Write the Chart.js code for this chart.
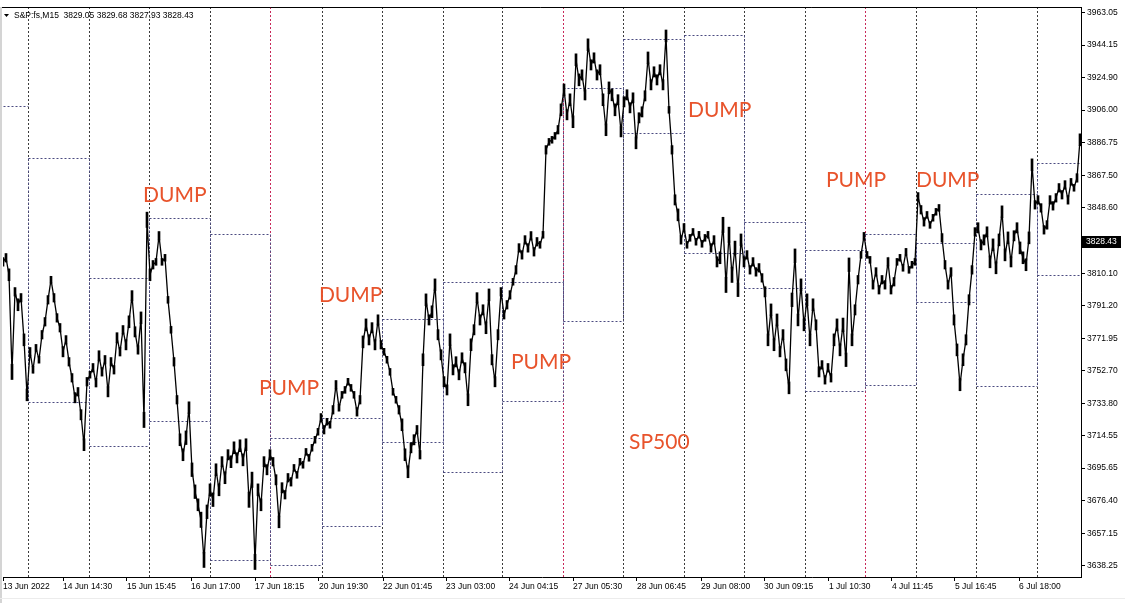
<!DOCTYPE html>
<html>
<head>
<meta charset="utf-8">
<script src="https://cdn.jsdelivr.net/npm/chart.js@4.4.0/dist/chart.umd.min.js"></script>
<style>
  body { margin: 0; background: #fff; }
  canvas { display: block; }
</style>
</head>
<body>
<canvas id="chart" width="1125" height="603"></canvas>
<script>
// S&P:fs M15 close prices, one sample per slot
const prices = [
  3816.8, 3819.2, 3809.2, 3752.2, 3799.2, 3791.6, 3795.7, 3771.0, 3738.7, 3764.0,
  3753.4, 3766.3, 3759.3, 3774.0, 3781.6, 3794.5, 3806.3, 3795.7, 3783.9, 3778.1,
  3764.0, 3771.0, 3758.1, 3748.7, 3737.0, 3740.5, 3727.0, 3709.4, 3746.4, 3750.5,
  3754.6, 3745.8, 3761.6, 3752.2, 3759.3, 3740.5, 3758.1, 3753.4, 3772.2, 3764.0,
  3776.9, 3768.1, 3781.6, 3796.9, 3775.7, 3765.1, 3783.9, 3724.0, 3841.5, 3809.2,
  3815.1, 3816.8, 3832.1, 3816.8, 3819.2, 3794.5, 3776.9, 3758.1, 3735.8, 3712.3,
  3703.5, 3713.5, 3731.1, 3694.7, 3681.8, 3674.1, 3665.3, 3641.8, 3670.0, 3682.9,
  3677.1, 3694.7, 3682.9, 3699.4, 3690.0, 3703.5, 3699.4, 3707.6, 3701.7, 3708.8,
  3700.5, 3709.4, 3677.1, 3688.8, 3640.6, 3682.9, 3674.1, 3699.4, 3694.7, 3703.5,
  3699.4, 3688.8, 3664.1, 3684.1, 3680.0, 3690.0, 3687.6, 3695.8, 3691.7, 3699.4,
  3697.6, 3705.2, 3701.7, 3707.6, 3712.3, 3717.0, 3725.2, 3718.2, 3722.9, 3721.1,
  3729.9, 3744.6, 3731.1, 3738.7, 3741.6, 3746.4, 3742.8, 3738.7, 3728.7, 3735.8,
  3769.8, 3779.8, 3771.0, 3778.1, 3768.1, 3782.7, 3768.1, 3764.0, 3759.3, 3752.2,
  3740.5, 3735.8, 3729.9, 3721.1, 3703.5, 3693.5, 3707.6, 3712.3, 3718.2, 3703.5,
  3759.3, 3794.5, 3782.7, 3787.5, 3803.3, 3774.0, 3762.2, 3746.4, 3741.6, 3771.0,
  3753.4, 3758.1, 3750.5, 3760.4, 3754.6, 3735.8, 3768.1, 3776.9, 3795.7, 3782.7,
  3788.6, 3778.1, 3797.4, 3759.3, 3746.4, 3774.0, 3799.2, 3785.7, 3791.6, 3797.4,
  3805.1, 3812.1, 3825.0, 3820.9, 3829.7, 3825.0, 3832.1, 3822.7, 3828.6, 3826.8,
  3832.7, 3882.6, 3887.3, 3888.5, 3890.8, 3894.4, 3906.1, 3917.8, 3903.2, 3912.0,
  3899.1, 3935.5, 3923.7, 3926.6, 3914.9, 3944.3, 3932.5, 3936.6, 3926.6, 3929.6,
  3912.0, 3894.4, 3919.0, 3914.9, 3906.1, 3912.0, 3893.2, 3910.8, 3914.9, 3907.3,
  3913.1, 3886.7, 3901.4, 3904.9, 3914.3, 3936.6, 3920.8, 3928.4, 3923.7, 3929.6,
  3920.8, 3949.5, 3906.1, 3882.6, 3853.2, 3844.4, 3829.7, 3836.8, 3826.8, 3830.9,
  3834.4, 3828.6, 3832.7, 3827.4, 3830.9, 3832.7, 3825.0, 3829.7, 3816.8, 3819.2,
  3838.5, 3803.3, 3832.7, 3809.2, 3825.0, 3800.4, 3829.7, 3816.8, 3820.9, 3812.1,
  3816.8, 3810.9, 3813.3, 3807.4, 3799.2, 3771.0, 3788.6, 3768.1, 3782.7, 3764.0,
  3774.0, 3756.3, 3742.8, 3794.5, 3820.4, 3782.7, 3803.3, 3779.8, 3794.5, 3771.0,
  3791.6, 3779.8, 3752.2, 3756.3, 3747.5, 3754.6, 3748.7, 3771.0, 3779.8, 3765.1,
  3779.8, 3759.3, 3815.1, 3771.0, 3788.6, 3806.3, 3820.9, 3832.1, 3820.9, 3818.0,
  3803.3, 3810.9, 3800.4, 3806.3, 3803.3, 3816.8, 3800.4, 3805.1, 3816.8, 3819.2,
  3813.3, 3822.7, 3812.1, 3815.1, 3816.8, 3855.0, 3847.4, 3840.3, 3844.4, 3838.5,
  3842.7, 3846.2, 3848.5, 3830.9, 3815.1, 3803.3, 3810.9, 3782.7, 3765.1, 3744.6,
  3759.3, 3771.0, 3794.5, 3812.1, 3834.4, 3836.8, 3826.8, 3829.7, 3834.4, 3816.8,
  3826.8, 3813.3, 3829.7, 3846.2, 3820.9, 3830.9, 3816.8, 3832.1, 3836.8, 3825.0,
  3819.2, 3815.1, 3830.9, 3873.8, 3850.3, 3853.2, 3848.5, 3835.6, 3838.5, 3853.2,
  3849.7, 3854.4, 3860.3, 3856.2, 3862.0, 3853.2, 3863.8, 3860.3, 3866.1, 3888.5
];

// half of the high-low spread of the bars in each slot (points)
const barSpan = [
  2.5, 2.5, 3.5, 4.5, 2.5, 3.5, 2.5, 3.5, 3.5, 2.5,
  2, 2, 2, 2.5, 2.5, 2.5, 2, 2.5, 2.5, 2.5,
  3, 2.5, 2.5, 2.5, 3, 2.5, 3, 3.5, 2.5, 2,
  2.5, 2.5, 3, 2.5, 2.5, 3, 2.5, 2.5, 3, 2.5,
  2.5, 3, 3.5, 3, 3, 2.5, 3.5, 4.5, 4.5, 3.5,
  2.5, 2, 2.5, 2, 2, 2, 2, 2.5, 2.5, 3.5,
  3.5, 4, 3.5, 4, 4, 3.5, 4.5, 4.5, 4, 3.5,
  4, 3.5, 3.5, 3, 3.5, 3, 3.5, 3.5, 3, 3.5,
  3.5, 3.5, 4.5, 4.5, 4.5, 3.5, 3.5, 3, 3, 3,
  2.5, 3, 3.5, 3, 2.5, 2.5, 2.5, 2, 2, 2,
  2, 2, 2, 2, 2, 2, 2.5, 2.5, 2, 2,
  2.5, 2.5, 2, 2, 2, 2, 2, 2, 2.5, 2.5,
  3.5, 3.5, 3, 3, 3, 3, 2.5, 2, 2, 2,
  2, 2, 2.5, 3.5, 3.5, 3.5, 3, 3, 2.5, 2.5,
  3.5, 3.5, 3, 3.5, 3.5, 3, 3, 3, 3, 3.5,
  3, 3, 3, 3, 3, 3.5, 3.5, 3, 3, 3,
  3, 3.5, 3.5, 3, 3, 3, 2.5, 2.5, 2.5, 2.5,
  2, 2.5, 2.5, 2.5, 2.5, 2.5, 2.5, 2.5, 2.5, 2,
  2, 2.5, 2, 2, 2, 2.5, 3.5, 3.5, 3, 3.5,
  3.5, 3.5, 3.5, 3, 3, 3.5, 3, 3, 3, 3,
  3.5, 3.5, 3.5, 3.5, 3.5, 3, 3, 3, 3, 3,
  3, 3.5, 3, 3, 3, 3.5, 3, 3, 3, 3,
  3, 3.5, 2, 2.5, 3, 3.5, 2.5, 2.5, 2, 2,
  2, 2, 2, 2, 2, 2, 2.5, 2.5, 3, 3.5,
  4.5, 4.5, 4.5, 4.5, 4, 4, 3.5, 3, 2.5, 2.5,
  2.5, 2.5, 2.5, 2.5, 3, 3.5, 3.5, 3.5, 3.5, 3,
  3, 3.5, 3.5, 4, 4, 3.5, 3.5, 3.5, 3.5, 3.5,
  3.5, 3, 3, 2.5, 2.5, 2.5, 2.5, 3.5, 3.5, 3.5,
  4, 4, 4, 3.5, 3, 2.5, 2, 2, 2, 2,
  2.5, 2.5, 2.5, 2.5, 2.5, 2.5, 2.5, 2.5, 2, 2,
  2, 2, 2, 2, 2, 2.5, 2.5, 2.5, 2, 2,
  2, 2, 2, 2.5, 2.5, 2.5, 2.5, 3, 3.5, 3.5,
  3.5, 3, 3, 2.5, 2.5, 3, 3, 3, 3, 3.5,
  3.5, 3.5, 3.5, 3.5, 3.5, 3.5, 3, 3, 3, 3.5,
  3.5, 3.5, 3.5, 3.5, 2.5, 2.5, 2.5, 2.5, 2.5, 2.5,
  2.5, 2.5, 2.5, 2.5, 2.5, 2.5, 2, 2, 2.5, 3.5
];

// time axis labels and where they sit (slot index)
const timeTickPos = [0, 20, 41.3, 62.7, 84, 105.3, 126.7, 147.7, 168.7, 190, 211.3, 232.7, 253.7, 275.3, 296.3, 317.3, 338.7];
const timeTickLabels = ['13 Jun 2022', '14 Jun 14:30', '15 Jun 15:45', '16 Jun 17:00', '17 Jun 18:15', '20 Jun 19:30',
  '22 Jun 01:45', '23 Jun 03:00', '24 Jun 04:15', '27 Jun 05:30', '28 Jun 06:45', '29 Jun 08:00',
  '30 Jun 09:15', '1 Jul 10:30', '4 Jul 11:45', '5 Jul 16:45', '6 Jul 18:00'];

// price scale labels
const priceTicks = [3963.05, 3944.15, 3924.90, 3906.00, 3886.75, 3867.50, 3848.60, 3810.10, 3791.20,
  3771.95, 3752.70, 3733.80, 3714.55, 3695.65, 3676.40, 3657.15, 3638.25];

// day separators (slot index); week starts drawn red
const daySep = [8.3, 28.7, 48.7, 69, 89, 106.3, 126.3, 146.7, 166.3, 186.7, 206.7, 227, 247, 267.3, 287.3, 304.3, 324.3, 344.7];
const weekSep = [89, 186.7, 287.3];

// daily range boxes, one per day segment
const boxHigh = [3908.4, 3877.9, 3807.4, 3842.5, 3833.1, 3713.3, 3725.0, 3783.5, 3804.9, 3805.2,
  3918.8, 3947.6, 3950.0, 3840.1, 3823.7, 3833.1, 3827.8, 3856.6, 3875.0];
const boxLow = [null, 3734.6, 3708.5, 3723.6, 3641.8, 3638.9, 3661.9, 3710.9, 3693.3, 3734.8,
  3781.8, 3892.4, 3821.9, 3801.4, 3741.0, 3744.6, 3793.2, 3744.0, 3808.8];

// text notes on the chart
const noteText = ['DUMP', 'PUMP', 'DUMP', 'PUMP', 'SP500', 'DUMP', 'PUMP', 'DUMP'];
const noteX = [46.7, 85.3, 105.3, 169.3, 208.7, 228.3, 274.3, 304.3];
const notePrice = [3852.1, 3738.7, 3793.3, 3753.9, 3707.0, 3902.0, 3860.9, 3860.9];

const headerText = 'S&P:fs,M15  3829.05 3829.68 3827.93 3828.43';
const lastPrice = 3828.43;

const X_MAX = 359.33;
const Y_MIN = 3631.7;
const Y_MAX = 3966.5;
const axisFont = { family: '"Liberation Sans", Arial, sans-serif', size: 8.5 };

// separators, boxes, notes, frame
const overlayPlugin = {
    id: 'overlay',
    beforeDatasetsDraw(chart) {
        const ctx = chart.ctx;
        const area = chart.chartArea;
        const xs = chart.scales.x;
        const ys = chart.scales.y;
        ctx.save();
        ctx.lineWidth = 1;

        // day separators
        ctx.setLineDash([2, 2]);
        daySep.forEach(v => {
            const px = Math.round(xs.getPixelForValue(v)) + 0.5;
            ctx.strokeStyle = weekSep.includes(v) ? '#c8285a' : '#3c3c3c';
            ctx.beginPath();
            ctx.moveTo(px, area.top);
            ctx.lineTo(px, area.bottom);
            ctx.stroke();
        });

        // boxes
        ctx.strokeStyle = '#4b4b80';
        boxHigh.forEach((hi, i) => {
            const x0 = Math.round(xs.getPixelForValue(i === 0 ? 0 : daySep[i - 1])) + 0.5;
            const x1 = Math.round(xs.getPixelForValue(i === daySep.length ? X_MAX : daySep[i])) + 0.5;
            const yh = Math.round(ys.getPixelForValue(hi)) + 0.5;
            ctx.beginPath();
            ctx.moveTo(x0, yh);
            ctx.lineTo(x1, yh);
            if (boxLow[i] !== null) {
                const yl = Math.round(ys.getPixelForValue(boxLow[i])) + 0.5;
                ctx.moveTo(x0, yl);
                ctx.lineTo(x1, yl);
                ctx.moveTo(x0, yh);
                ctx.lineTo(x0, yl);
                ctx.moveTo(x1, yh);
                ctx.lineTo(x1, yl);
            }
            ctx.stroke();
        });
        ctx.restore();
    },
    afterDatasetsDraw(chart) {
        const ctx = chart.ctx;
        const area = chart.chartArea;
        const xs = chart.scales.x;
        const ys = chart.scales.y;
        ctx.save();

        // notes
        ctx.fillStyle = '#e8532b';
        ctx.font = '21px Lato, "Open Sans", sans-serif';
        ctx.textAlign = 'left';
        ctx.textBaseline = 'alphabetic';
        noteText.forEach((t, i) => {
            ctx.fillText(t, xs.getPixelForValue(noteX[i]), ys.getPixelForValue(notePrice[i]));
        });

        // frame
        ctx.strokeStyle = '#000';
        ctx.lineWidth = 1;
        ctx.beginPath();
        ctx.moveTo(0, area.top + 0.5);
        ctx.lineTo(area.right + 0.5, area.top + 0.5);
        ctx.lineTo(area.right + 0.5, area.bottom);
        ctx.stroke();

        // left window edge + bottom strip
        ctx.fillStyle = '#d4d4d4';
        ctx.fillRect(0, area.top, 2, chart.height - area.top);
        ctx.fillStyle = '#ececec';
        ctx.fillRect(0, chart.height - 5, chart.width, 1);

        // header
        ctx.fillStyle = '#000';
        ctx.beginPath();
        ctx.moveTo(4, 14);
        ctx.lineTo(9, 14);
        ctx.lineTo(6.5, 17);
        ctx.closePath();
        ctx.fill();
        ctx.font = '8.5px "Liberation Sans", Arial, sans-serif';
        ctx.textBaseline = 'middle';
        ctx.fillText(headerText, 14, 16);

        // last price tag
        const py = Math.round(ys.getPixelForValue(lastPrice));
        ctx.fillStyle = '#000';
        ctx.fillRect(area.right + 1, py - 6, 39, 12);
        ctx.fillStyle = '#fff';
        ctx.fillText(lastPrice.toFixed(2), area.right + 5, py);
        ctx.restore();
    }
};

const ctx = document.getElementById('chart').getContext('2d');
new Chart(ctx, {
    type: 'line',
    data: {
        datasets: [{
            type: 'line',
            data: prices.map((p, i) => ({ x: i, y: p })),
            borderColor: '#000',
            borderWidth: 1.3,
            pointRadius: 0,
            tension: 0
        }, {
            type: 'bar',
            data: prices.map((p, i) => ({ x: i, y: [p - barSpan[i], p + barSpan[i]] })),
            backgroundColor: '#000',
            borderWidth: 0,
            barThickness: 2
        }]
    },
    options: {
        responsive: false,
        animation: false,
        layout: { padding: { left: 3, top: 7, right: 0, bottom: 0 } },
        plugins: { legend: { display: false }, tooltip: { enabled: false } },
        scales: {
            x: {
                type: 'linear',
                offset: false,
                min: 0,
                max: X_MAX,
                afterBuildTicks: s => { s.ticks = timeTickPos.map(v => ({ value: v })); },
                afterFit: s => { s.height = 26; s.paddingLeft = 0; s.paddingRight = 0; },
                ticks: {
                    callback: (v, i) => timeTickLabels[i],
                    align: 'start',
                    maxRotation: 0,
                    autoSkip: false,
                    font: axisFont,
                    color: '#000',
                    padding: 1
                },
                grid: { drawOnChartArea: false, tickLength: 4, color: '#000', offset: false },
                border: { color: '#000' }
            },
            y: {
                position: 'right',
                min: Y_MIN,
                max: Y_MAX,
                afterBuildTicks: s => { s.ticks = priceTicks.map(v => ({ value: v })); },
                afterFit: s => { s.width = 44; s.paddingTop = 0; s.paddingBottom = 0; },
                ticks: {
                    callback: v => v.toFixed(2),
                    font: axisFont,
                    color: '#000',
                    padding: 2
                },
                grid: { drawOnChartArea: false, tickLength: 4, color: '#000' },
                border: { color: '#000' }
            }
        }
    },
    plugins: [overlayPlugin]
});
</script>
</body>
</html>
